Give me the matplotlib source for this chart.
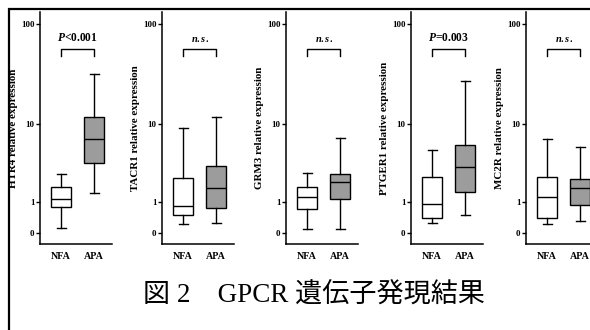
import numpy as np
import matplotlib

matplotlib.use('Agg')

import matplotlib.pyplot as plt
from matplotlib.patches import Rectangle

plt.rcParams['font.family'] = ['Liberation Serif', 'Noto Sans CJK JP']
plt.rcParams['font.weight'] = 'bold'
plt.rcParams['mathtext.fontset'] = 'custom'
plt.rcParams['mathtext.it'] = 'Liberation Serif:italic:bold'
plt.rcParams['mathtext.rm'] = 'Liberation Serif:bold'

# data: whisker low, Q1, median, Q3, whisker high
genes = ['HTR4', 'TACR1', 'GRM3', 'PTGER1', 'MC2R']
groups = ['NFA', 'APA']
htr4_nfa = [0.11, 0.77, 1.13, 1.77, 2.70]
htr4_apa = [1.44, 3.7, 7.0, 11.8, 32.5]
tacr1_nfa = [0.21, 0.49, 0.82, 2.34, 9.2]
tacr1_apa = [0.24, 0.74, 1.68, 3.4, 11.9]
grm3_nfa = [0.085, 0.69, 1.23, 1.78, 2.78]
grm3_apa = [0.085, 1.12, 2.1, 2.68, 7.09]
ptger1_nfa = [0.24, 0.38, 0.90, 2.47, 5.25]
ptger1_apa = [0.49, 1.49, 3.26, 5.93, 27.8]
mc2r_nfa = [0.21, 0.38, 1.23, 2.42, 6.9]
mc2r_apa = [0.30, 0.86, 1.72, 2.29, 5.72]
pvals = [r'$P$<0.001', r'$n.s.$', r'$n.s.$', r'$P$=0.003', r'$n.s.$']
yticks = [0, 1, 10, 100]
title = '図 2\u3000GPCR 遺伝子発現結果'

data = {
    'HTR4': (htr4_nfa, htr4_apa),
    'TACR1': (tacr1_nfa, tacr1_apa),
    'GRM3': (grm3_nfa, grm3_apa),
    'PTGER1': (ptger1_nfa, ptger1_apa),
    'MC2R': (mc2r_nfa, mc2r_apa),
}


def fwd(x):
    return np.log10(np.clip(x, -0.99, None) + 1)


def inv(y):
    return 10 ** y - 1


def to_stats(v, label):
    return dict(whislo=v[0], q1=v[1], med=v[2], q3=v[3], whishi=v[4],
                label=label, fliers=[])


W, H = 590, 330
fig = plt.figure(figsize=(W / 100, H / 100), dpi=100)

# outer frame (right and bottom run off the picture)
fig.patches.append(Rectangle((9 / W, -0.2), 1.2, 1.2 - 9 / H,
                             transform=fig.transFigure, fill=False,
                             lw=1.6, ec='black'))

lefts = [40, 162, 286, 411, 526]
aw = 72
for i, gene in enumerate(genes):
    ax = fig.add_axes([lefts[i] / W, 1 - 244 / H, aw / W, (244 - 12) / H])
    ax.set_yscale('function', functions=(fwd, inv))
    nfa, apa = data[gene]
    bp = ax.bxp([to_stats(nfa, groups[0]), to_stats(apa, groups[1])],
                positions=[1, 2], widths=0.6, showfliers=False,
                patch_artist=True, capwidths=0.28,
                boxprops=dict(lw=1.0, ec='black'),
                whiskerprops=dict(lw=1.0),
                capprops=dict(lw=1.0),
                medianprops=dict(lw=1.0, color='black'))
    bp['boxes'][0].set_facecolor('white')
    bp['boxes'][1].set_facecolor('#9c9c9c')

    ax.set_ylim(-0.215, 130)
    ax.set_xlim(0.36, 2.54)
    ax.set_yticks(yticks)
    ax.set_yticklabels([str(t) for t in yticks])
    ax.minorticks_off()
    ax.tick_params(axis='y', length=3, width=1, pad=1, labelsize=6.5)
    ax.tick_params(axis='x', length=0, pad=6, labelsize=7.2)
    for s in ['top', 'right']:
        ax.spines[s].set_visible(False)
    for s in ['left', 'bottom']:
        ax.spines[s].set_linewidth(1.1)
    ax.set_ylabel(gene + ' relative expression', fontsize=7.9,
                  fontweight='bold', labelpad=2)

    # significance bracket
    ax.plot([1, 1, 2, 2], [48.8, 57, 57, 48.8], color='black', lw=1.0)
    fs = 8.3 if pvals[i].startswith('$P') else 7.5
    ax.text(1.5, 63, pvals[i], ha='center', va='bottom', fontsize=fs,
            fontweight='bold')

fig.text(314 / W, 1 - 296 / H, title, ha='center', va='center',
         fontsize=19.5, fontweight='normal')

fig.savefig('out.png', dpi=100)
